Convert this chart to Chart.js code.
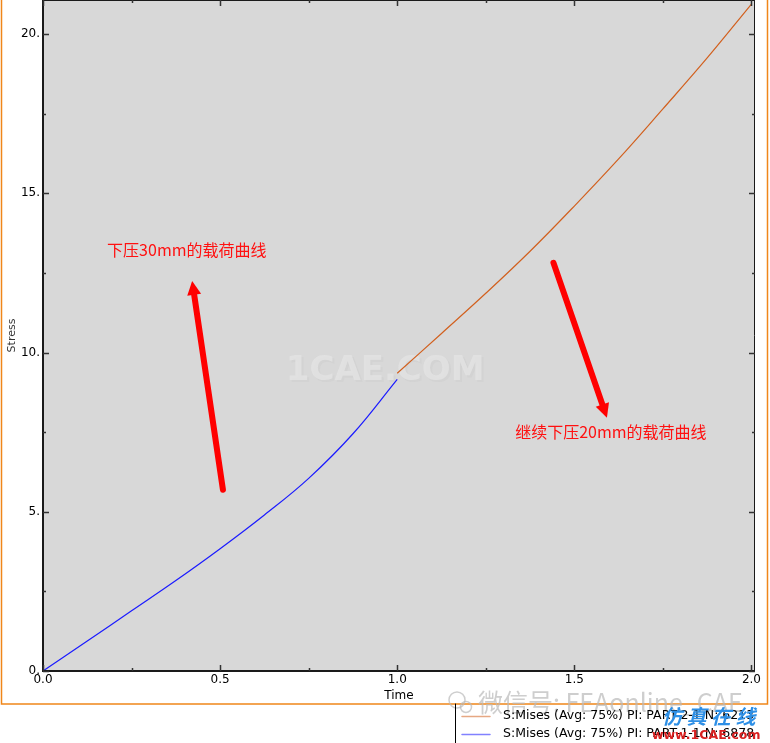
<!DOCTYPE html>
<html>
<head>
<meta charset="utf-8">
<script src="https://cdn.jsdelivr.net/npm/chart.js@4"></script>
<style>
  html, body { margin: 0; padding: 0; background: #ffffff; }
  #wrap { position: relative; width: 770px; height: 743px; }
</style>
</head>
<body>
<div id="wrap"><canvas id="chart" width="770" height="743"></canvas></div>
<script>
// Dados da curva
const timeA = [0, 0.125, 0.25, 0.375, 0.5, 0.625, 0.75, 0.875, 1.0];
const stressA = [0, 0.94, 1.89, 2.84, 3.84, 4.9, 6.05, 7.45, 9.16];
const timeB = [1.0, 1.125, 1.25, 1.375, 1.5, 1.625, 1.75, 1.875, 2.0];
const stressB = [9.35, 10.6, 11.86, 13.18, 14.6, 16.08, 17.65, 19.25, 20.94];

const xTicks = [0, 0.5, 1.0, 1.5, 2.0];
const yTicks = [0, 5, 10, 15, 20];
const legendLabels = [
  'S:Mises (Avg: 75%) PI: PART-2-1 N: 6213',
  'S:Mises (Avg: 75%) PI: PART-1-1 N: 6878'
];

// Anotações em coordenadas de dados
const notes = [
  { text: '下压30mm的载荷曲线', x: 0.181, y: 13.22 },
  { text: '继续下压20mm的载荷曲线', x: 1.333, y: 7.51 }
];
const arrows = [
  { from: [0.508, 5.69], to: [0.421, 12.25] },
  { from: [1.441, 12.82], to: [1.592, 7.95] }
];

const FONT = "'DejaVu Sans', Verdana, sans-serif";

function toPoints(xs, ys) {
  return xs.map(function(x, i) { return { x: x, y: ys[i] }; });
}

// Fundo cinza da área do gráfico
const plotBg = {
  id: 'plotBg',
  beforeDraw: function(chart) {
    const a = chart.chartArea;
    const ctx = chart.ctx;
    ctx.save();
    ctx.fillStyle = '#d8d8d8';
    ctx.fillRect(a.left, a.top, a.right - a.left, a.bottom - a.top);
    ctx.font = 'bold 34px ' + FONT;
    ctx.textAlign = 'center';
    ctx.textBaseline = 'middle';
    const wx = chart.scales.x.getPixelForValue(0.966);
    const wy = chart.scales.y.getPixelForValue(9.4);
    ctx.fillStyle = 'rgba(205,205,205,0.5)';
    ctx.fillText('1CAE.COM', wx + 2, wy + 2);
    ctx.fillStyle = 'rgba(228,228,228,0.8)';
    ctx.fillText('1CAE.COM', wx, wy);
    ctx.restore();
  }
};

// Eixos, marcas internas, anotações e legenda
const frame = {
  id: 'frame',
  afterDraw: function(chart) {
    const a = chart.chartArea;
    const ctx = chart.ctx;
    const xs = chart.scales.x;
    const ys = chart.scales.y;
    ctx.save();

    // borda do gráfico
    ctx.strokeStyle = '#1a1a1a';
    ctx.lineWidth = 2;
    ctx.beginPath();
    ctx.moveTo(a.left, a.top);
    ctx.lineTo(a.left, a.bottom);
    ctx.lineTo(a.right, a.bottom);
    ctx.stroke();
    ctx.lineWidth = 1;
    ctx.beginPath();
    ctx.moveTo(a.left, a.top + 0.5);
    ctx.lineTo(a.right, a.top + 0.5);
    ctx.moveTo(a.right - 0.5, a.top);
    ctx.lineTo(a.right - 0.5, a.bottom);
    ctx.stroke();

    // marcas
    ctx.strokeStyle = '#333333';
    for (let t = 0; t <= 2.0001; t += 0.25) {
      const px = Math.round(xs.getPixelForValue(t)) + 0.5;
      const len = Math.abs(t * 2 - Math.round(t * 2)) < 1e-6 ? 6 : 3;
      ctx.lineWidth = 1.5;
      ctx.beginPath();
      ctx.moveTo(px, a.bottom);
      ctx.lineTo(px, a.bottom - len);
      ctx.moveTo(px, a.top);
      ctx.lineTo(px, a.top + len);
      ctx.stroke();
    }
    for (let v = 0; v <= 20.0001; v += 2.5) {
      const py = Math.round(ys.getPixelForValue(v)) + 0.5;
      const len = Math.abs(v / 5 - Math.round(v / 5)) < 1e-6 ? 6 : 3;
      ctx.lineWidth = 1.5;
      ctx.beginPath();
      ctx.moveTo(a.left, py);
      ctx.lineTo(a.left + len, py);
      ctx.moveTo(a.right, py);
      ctx.lineTo(a.right - len, py);
      ctx.stroke();
    }

    // setas
    ctx.strokeStyle = '#ff0000';
    ctx.fillStyle = '#ff0000';
    arrows.forEach(function(ar) {
      const x1 = xs.getPixelForValue(ar.from[0]);
      const y1 = ys.getPixelForValue(ar.from[1]);
      const x2 = xs.getPixelForValue(ar.to[0]);
      const y2 = ys.getPixelForValue(ar.to[1]);
      const ang = Math.atan2(y2 - y1, x2 - x1);
      const hl = 14, hw = 7;
      const bx = x2 - hl * Math.cos(ang);
      const by = y2 - hl * Math.sin(ang);
      ctx.lineWidth = 6;
      ctx.lineCap = 'round';
      ctx.beginPath();
      ctx.moveTo(x1, y1);
      ctx.lineTo(bx, by);
      ctx.stroke();
      ctx.beginPath();
      ctx.moveTo(x2, y2);
      ctx.lineTo(bx + hw * Math.sin(ang), by - hw * Math.cos(ang));
      ctx.lineTo(bx - hw * Math.sin(ang), by + hw * Math.cos(ang));
      ctx.closePath();
      ctx.fill();
    });

    // textos das anotações
    ctx.font = "16px 'Noto Sans CJK SC', sans-serif";
    ctx.textAlign = 'left';
    ctx.textBaseline = 'middle';
    ctx.fillStyle = '#ff1010';
    notes.forEach(function(n) {
      ctx.fillText(n.text, xs.getPixelForValue(n.x), ys.getPixelForValue(n.y));
    });

    // moldura laranja
    ctx.strokeStyle = '#f0861a';
    ctx.lineWidth = 1.5;
    ctx.beginPath();
    ctx.moveTo(1.5, 0);
    ctx.lineTo(1.5, 704);
    ctx.lineTo(767.5, 704);
    ctx.lineTo(767.5, 0);
    ctx.stroke();

    // marca d'água inferior
    ctx.font = "25px 'Noto Sans CJK SC', sans-serif";
    ctx.fillStyle = 'rgba(185,185,185,0.7)';
    ctx.textBaseline = 'middle';
    ctx.fillText('微信号: FEAonline_CAE', 478, 702);
    ctx.strokeStyle = 'rgba(185,185,185,0.7)';
    ctx.lineWidth = 1.5;
    ctx.beginPath();
    ctx.arc(457, 700, 8, 0, Math.PI * 2);
    ctx.stroke();
    ctx.beginPath();
    ctx.arc(466, 707, 5.5, 0, Math.PI * 2);
    ctx.stroke();

    // legenda
    ctx.strokeStyle = '#000000';
    ctx.lineWidth = 1;
    ctx.beginPath();
    ctx.moveTo(455.5, 704);
    ctx.lineTo(455.5, 743);
    ctx.stroke();
    const ds = chart.data.datasets;
    const rows = [716, 734];
    [1, 0].forEach(function(di, i) {
      ctx.strokeStyle = ds[di].borderColor;
      ctx.globalAlpha = 0.55;
      ctx.lineWidth = 1.5;
      ctx.beginPath();
      ctx.moveTo(462, rows[i] + 0.5);
      ctx.lineTo(490, rows[i] + 0.5);
      ctx.stroke();
      ctx.globalAlpha = 1;
      ctx.font = '12.5px ' + FONT;
      ctx.fillStyle = '#000000';
      ctx.fillText(legendLabels[i], 503, rows[i]);
    });

    // marcas d'água do site
    ctx.font = "italic bold 20px 'Noto Sans CJK SC', sans-serif";
    ctx.fillStyle = '#2d8fe6';
    ctx.fillText('仿 真 在 线', 662, 716);
    ctx.font = 'bold 12.5px ' + FONT;
    ctx.fillStyle = '#d82020';
    ctx.fillText('www.1CAE.com', 652, 736);

    ctx.restore();
  }
};

new Chart(document.getElementById('chart'), {
  type: 'line',
  data: {
    datasets: [
      {
        label: legendLabels[1],
        data: toPoints(timeA, stressA),
        borderColor: '#1a1aff',
        borderWidth: 1.2,
        pointRadius: 0,
        fill: false,
        tension: 0.4
      },
      {
        label: legendLabels[0],
        data: toPoints(timeB, stressB),
        borderColor: '#d2601e',
        borderWidth: 1.2,
        pointRadius: 0,
        fill: false,
        tension: 0.4
      }
    ]
  },
  options: {
    responsive: false,
    animation: false,
    layout: { padding: { left: 0, right: 15, top: 0, bottom: 39 } },
    plugins: {
      legend: { display: false },
      tooltip: { enabled: false }
    },
    scales: {
      x: {
        type: 'linear',
        min: 0,
        max: 2.01,
        grid: { display: false, drawTicks: false },
        border: { display: false },
        afterBuildTicks: function(scale) {
          scale.ticks = xTicks.map(function(v) { return { value: v }; });
        },
        afterFit: function(scale) {
          scale.height = 33;
          scale.paddingLeft = 0;
          scale.paddingRight = 0;
        },
        ticks: {
          padding: 2,
          color: '#000000',
          font: { family: FONT, size: 12 },
          maxRotation: 0,
          callback: function(v) { return v.toFixed(1); }
        },
        title: {
          display: true,
          text: 'Time',
          color: '#000000',
          font: { family: FONT, size: 12 },
          padding: { top: 0, bottom: 1 }
        }
      },
      y: {
        type: 'linear',
        min: 0,
        max: 21.07,
        grid: { display: false, drawTicks: false },
        border: { display: false },
        afterBuildTicks: function(scale) {
          scale.ticks = yTicks.map(function(v) { return { value: v }; });
        },
        afterFit: function(scale) {
          scale.width = 43;
          scale.paddingTop = 0;
          scale.paddingBottom = 0;
        },
        ticks: {
          padding: 3,
          color: '#000000',
          font: { family: FONT, size: 12 },
          callback: function(v) { return v.toFixed(0) + '.'; }
        },
        title: {
          display: true,
          text: 'Stress',
          color: '#333333',
          font: { family: FONT, size: 11 },
          padding: { top: 6, bottom: 0 }
        }
      }
    }
  },
  plugins: [plotBg, frame]
});
</script>
</body>
</html>
